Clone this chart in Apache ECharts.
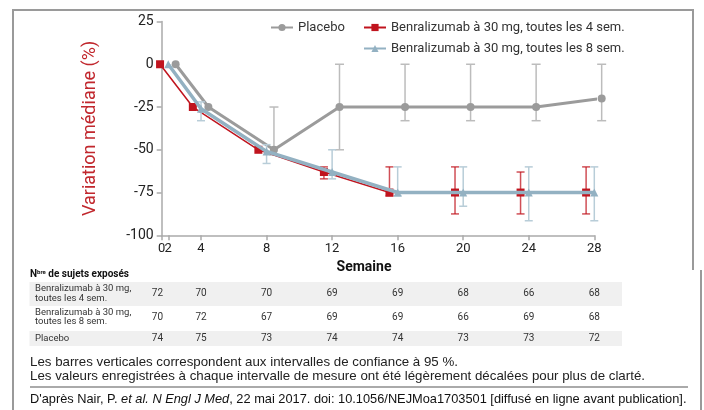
<!DOCTYPE html>
<html><head><meta charset="utf-8">
<script src="https://cdn.jsdelivr.net/npm/echarts@6/dist/echarts.min.js"></script>
<style>html,body{margin:0;padding:0;background:#fff}#c{width:704px;height:410px}</style>
</head><body><div id="c"></div>
<script>
// ---- data ----
const weeks = [0, 4, 8, 12, 16, 20, 24, 28];
// plotted position of each visit on the week axis (baseline drawn at 2, as in the original)
const plotPos = [2, 4, 8, 12, 16, 20, 24, 28];
const xOrigin = 1.6;              // axis start, labelled "0" in the original
const xOriginLabel = '0';
const xTickValues = [2, 4, 8, 12, 16, 20, 24, 28];
const yTicks = [25, 0, -25, -50, -75, -100];

const seriesNames = ['Placebo', 'Benralizumab à 30 mg, toutes les 4 sem.', 'Benralizumab à 30 mg, toutes les 8 sem.'];
const placeboMed = [0, -25, -50, -25, -25, -25, -25, -20];
const placeboLo  = [null, null, -53, -50, -33, -33, -33, -33];
const placeboHi  = [null, null, -25, 0, 0, 0, 0, 0];
const q4Med = [0, -25, -50, -63, -75, -75, -75, -75];
const q4Lo  = [null, null, null, -67, -77, -87.5, -87.5, -87.5];
const q4Hi  = [null, null, null, -60, -60, -60, -63, -60];
const q8Med = [0, -26, -51, -63, -75, -75, -75, -75];
const q8Lo  = [null, -33, -58, -67, -77, -83, -91.5, -91.5];
const q8Hi  = [null, -22, -47, -50, -60, -60, -60, -60];

// number of exposed subjects
const tableColPos = [1.34, 4, 8, 12, 16, 20, 24, 28];
const nQ4 = [72, 70, 70, 69, 69, 68, 66, 68];
const nQ8 = [70, 72, 67, 69, 69, 66, 69, 68];
const nPlacebo = [74, 75, 73, 74, 74, 73, 73, 72];

// display offsets ("légèrement décalées")
const offPlacebo = 0.45, offQ4 = -0.5, offQ8 = 0;

const RED = '#c0141e', GRAY = '#9b9b9b', BLUE = '#93b1c2';
const FONT = 'Roboto, "DejaVu Sans", sans-serif';
const NARROW = '"Liberation Sans Narrow", "Liberation Sans", Arial, sans-serif';

function pts(med, off) { return med.map((v, i) => [plotPos[i] + off, v]); }
function bars(lo, hi, off) {
  const out = [];
  lo.forEach((l, i) => { if (l !== null && hi[i] !== null) out.push([plotPos[i] + off, l, hi[i]]); });
  return out;
}
function errRender(color, capW, lw) {
  return function (params, api) {
    const x = api.value(0), lo = api.value(1), hi = api.value(2);
    const a = api.coord([x, hi]), b = api.coord([x, lo]);
    const st = { stroke: color, lineWidth: lw };
    return { type: 'group', children: [
      { type: 'line', shape: { x1: a[0], y1: a[1], x2: b[0], y2: b[1] }, style: st },
      { type: 'line', shape: { x1: a[0] - capW, y1: a[1], x2: a[0] + capW, y2: a[1] }, style: st },
      { type: 'line', shape: { x1: b[0] - capW, y1: b[1], x2: b[0] + capW, y2: b[1] }, style: st }
    ]};
  };
}

const chart = echarts.init(document.getElementById('c'), null, { renderer: 'canvas' });

chart.setOption({
  animation: false,
  textStyle: { fontFamily: FONT },
  grid: { left: 161.7, right: 109.7, top: 21.5, bottom: 174.7, containLabel: false },
  legend: [
    { data: [seriesNames[0]], left: 265, top: 16, itemWidth: 22, itemHeight: 9, itemGap: 0, textStyle: { fontSize: 13, color: '#333', fontFamily: FONT } },
    { data: [seriesNames[1]], left: 358, top: 16, itemWidth: 22, itemHeight: 9, textStyle: { fontSize: 13, color: '#333', fontFamily: FONT } },
    { data: [seriesNames[2]], left: 358, top: 37, itemWidth: 22, itemHeight: 9, textStyle: { fontSize: 13, color: '#333', fontFamily: FONT } }
  ],
  xAxis: [{
    type: 'value', min: xOrigin, max: 28,
    name: 'Semaine', nameLocation: 'middle', nameGap: 25,
    nameTextStyle: { fontWeight: 'bold', fontSize: 14, color: '#111', padding: [0, 28, 0, 0] },
    axisLine: { show: true, onZero: false, lineStyle: { color: '#aaa', width: 1.5 } },
    axisTick: { show: true, customValues: [xOrigin].concat(xTickValues), length: 5, lineStyle: { color: '#aaa', width: 1.5 } },
    axisLabel: { customValues: xTickValues, showMinLabel: true, showMaxLabel: true, fontSize: 13, color: '#222', margin: 7 },
    splitLine: { show: false }
  }, {
    type: 'value', min: xOrigin, max: 28, position: 'bottom', gridIndex: 0,
    axisLine: { show: false, onZero: false }, axisTick: { show: false }, splitLine: { show: false },
    axisLabel: { customValues: [xOrigin], showMinLabel: true, formatter: () => xOriginLabel, fontSize: 13, color: '#222', margin: 7 }
  }],
  yAxis: {
    type: 'value', min: -100, max: 25, interval: 25,
    name: 'Variation médiane (%)', nameLocation: 'middle', nameGap: 62, nameRotate: 90,
    nameTextStyle: { color: '#c1272d', fontSize: 18 },
    axisLine: { show: true, lineStyle: { color: '#aaa', width: 1.5 } },
    axisTick: { show: true, length: 5, lineStyle: { color: '#aaa', width: 1.5 } },
    axisLabel: { fontSize: 14, color: '#222', margin: 8 },
    splitLine: { show: false }
  },
  series: [
    { type: 'custom', name: 'pbar', z: 1, clip: false, renderItem: errRender('#bcbcbc', 4.5, 1.5), data: bars(placeboLo, placeboHi, offPlacebo), encode: { x: 0, y: [1, 2] } },
    { type: 'line', name: seriesNames[0], z: 2, clip: false, data: pts(placeboMed, offPlacebo), symbol: 'circle', symbolSize: 8,
      lineStyle: { color: GRAY, width: 3 }, itemStyle: { color: GRAY } },
    { type: 'custom', name: 'q4bar', z: 3, clip: false, renderItem: errRender('rgba(192,20,30,0.75)', 4, 1.5), data: bars(q4Lo, q4Hi, offQ4), encode: { x: 0, y: [1, 2] } },
    { type: 'line', name: seriesNames[1], z: 4, clip: false, data: pts(q4Med, offQ4), symbol: 'rect', symbolSize: 8,
      lineStyle: { color: RED, width: 1.5 }, itemStyle: { color: RED } },
    { type: 'custom', name: 'q8bar', z: 5, clip: false, renderItem: errRender('#b8cdd8', 4, 1.5), data: bars(q8Lo, q8Hi, offQ8), encode: { x: 0, y: [1, 2] } },
    { type: 'line', name: seriesNames[2], z: 6, clip: false, data: pts(q8Med, offQ8), symbol: 'triangle', symbolSize: 8,
      lineStyle: { color: BLUE, width: 3.5 }, itemStyle: { color: BLUE } }
  ]
});

// ---- frame, table and notes ----
const g = [];
const frame = { stroke: '#9a9a9a', lineWidth: 2 };
g.push({ type: 'line', shape: { x1: 13, y1: 10, x2: 693, y2: 10 }, style: frame, silent: true });
g.push({ type: 'line', shape: { x1: 13, y1: 9, x2: 13, y2: 410 }, style: frame, silent: true });
g.push({ type: 'line', shape: { x1: 693, y1: 9, x2: 693, y2: 270 }, style: frame, silent: true });
g.push({ type: 'line', shape: { x1: 701, y1: 270, x2: 701, y2: 410 }, style: frame, silent: true });

g.push({ type: 'rect', shape: { x: 29.5, y: 282, width: 592.5, height: 24 }, style: { fill: '#f0f0f0' }, z: 0 });
g.push({ type: 'rect', shape: { x: 29.5, y: 331, width: 592.5, height: 15 }, style: { fill: '#f0f0f0' }, z: 0 });

g.push({ type: 'text', left: 30, top: 269, style: {
  text: '{n|N}{s|bre}{n| de sujets exposés}',
  rich: { n: { fontSize: 10, fontWeight: 'bold', fill: '#111', fontFamily: FONT },
          s: { fontSize: 6, fontWeight: 'bold', fill: '#111', fontFamily: FONT, verticalAlign: 'top', padding: [0, 0, 5, 0] } } } });

const rowLabels = [['Benralizumab à 30 mg,', 'toutes les 4 sem.'], ['Benralizumab à 30 mg,', 'toutes les 8 sem.'], ['Placebo']];
const rowY = [293.5, 317, 338.5];
const rowData = [nQ4, nQ8, nPlacebo];
rowLabels.forEach((lines, r) => {
  g.push({ type: 'text', x: 35, y: rowY[r], style: { text: lines.join('\n'), fontSize: 9.5, lineHeight: 9.5, fill: '#333', fontFamily: FONT, verticalAlign: 'middle', align: 'left' } });
  rowData[r].forEach((n, i) => {
    const px = chart.convertToPixel({ xAxisIndex: 0 }, tableColPos[i]);
    g.push({ type: 'text', x: px, y: rowY[r], style: { text: String(n), fontSize: 10, fill: '#333', fontFamily: FONT, align: 'center', verticalAlign: 'middle' } });
  });
});

g.push({ type: 'text', x: 30, y: 362, style: { text: 'Les barres verticales correspondent aux intervalles de confiance à 95 %.', fontSize: 13.3, fill: '#222', fontFamily: NARROW, verticalAlign: 'middle' } });
g.push({ type: 'text', x: 30, y: 376, style: { text: 'Les valeurs enregistrées à chaque intervalle de mesure ont été légèrement décalées pour plus de clarté.', fontSize: 13.3, fill: '#222', fontFamily: NARROW, verticalAlign: 'middle' } });
g.push({ type: 'line', shape: { x1: 30, y1: 387, x2: 688, y2: 387 }, style: { stroke: '#aaa', lineWidth: 2 } });
g.push({ type: 'text', x: 30, y: 399.5, style: {
  text: "{r|D'après Nair, P. }{i|et al.}{r| }{i|N Engl J Med}{r|, 22 mai 2017. doi: 10.1056/NEJMoa1703501 [diffusé en ligne avant publication].}",
  verticalAlign: 'middle',
  rich: { r: { fontSize: 12.8, fill: '#111', fontFamily: NARROW }, i: { fontSize: 12.8, fill: '#111', fontFamily: NARROW, fontStyle: 'italic' } } } });

chart.setOption({ graphic: g });
</script>
</body></html>
